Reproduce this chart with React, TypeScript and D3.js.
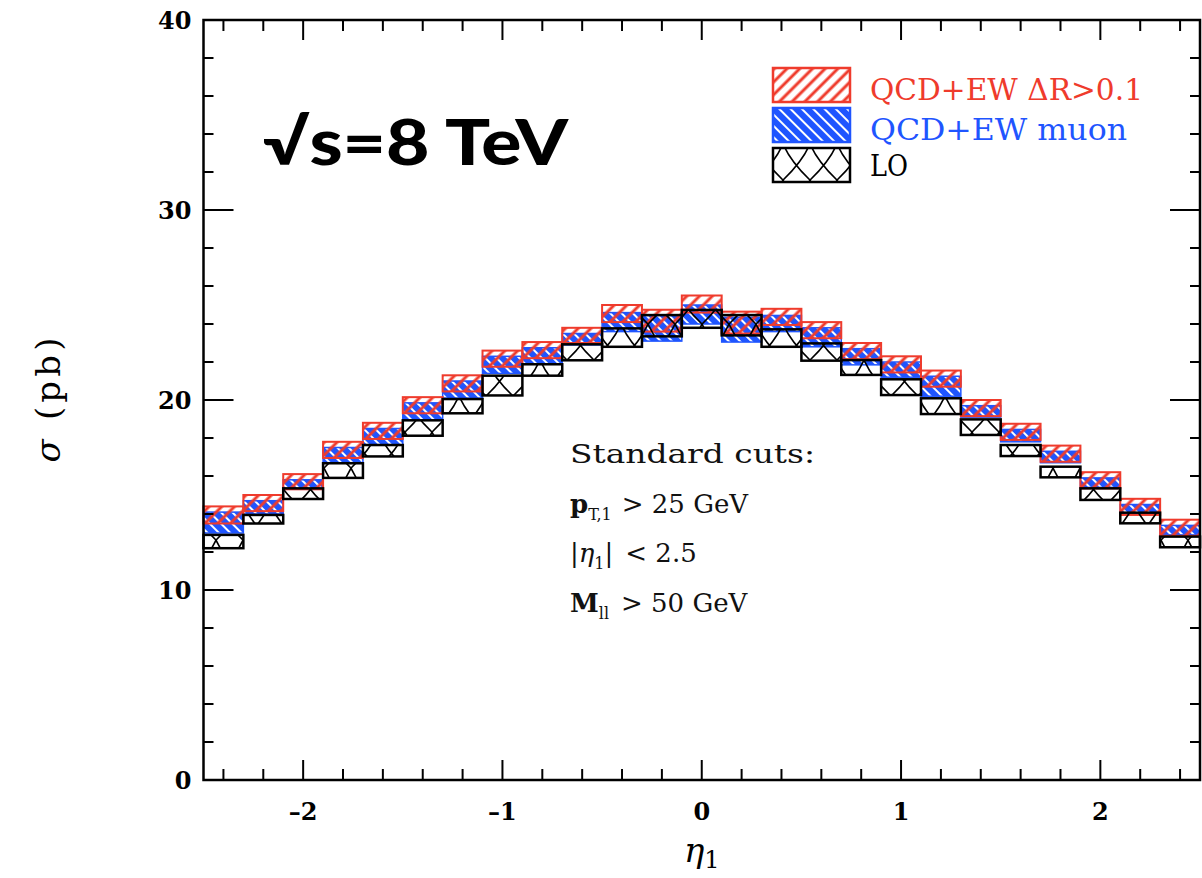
import React from 'react';
import * as d3 from 'd3';

// eta_1 bin edges (25 bins of 0.2)
const binEdges = [-2.5, -2.3, -2.1, -1.9, -1.7, -1.5, -1.3, -1.1, -0.9, -0.7, -0.5, -0.3, -0.1,
  0.1, 0.3, 0.5, 0.7, 0.9, 1.1, 1.3, 1.5, 1.7, 1.9, 2.1, 2.3, 2.5];

// QCD+EW dR>0.1 band (pb)
const ewHi = [14.4, 15.0, 16.1, 17.8, 18.8, 20.15, 21.3, 22.6, 23.05, 23.8, 25.0, 24.75, 25.5,
  24.65, 24.8, 24.1, 23.0, 22.3, 21.55, 20.0, 18.75, 17.6, 16.2, 14.8, 13.7];
const ewLo = [13.5, 14.15, 15.3, 16.95, 17.95, 19.3, 20.45, 21.75, 22.2, 23.0, 24.1, 23.6, 24.6,
  23.5, 23.95, 23.25, 22.15, 21.45, 20.7, 19.15, 17.9, 16.75, 15.35, 13.95, 12.85];
// QCD+EW muon band
const muHi = [14.1, 14.7, 15.8, 17.5, 18.5, 19.85, 21.0, 22.3, 22.75, 23.5, 24.6, 24.45, 25.0,
  24.35, 24.45, 23.8, 22.7, 22.0, 21.25, 19.7, 18.45, 17.3, 15.9, 14.5, 13.4];
const muLo = [13.0, 14.0, 15.3, 16.7, 17.65, 18.95, 20.1, 21.4, 21.9, 22.9, 23.6, 23.1, 24.0,
  23.05, 23.6, 22.8, 21.85, 21.2, 20.2, 19.1, 17.8, 16.7, 15.4, 14.0, 12.9];
// LO band
const loHi = [12.9, 13.95, 15.35, 16.67, 17.63, 18.93, 20.05, 21.28, 21.88, 22.93, 23.77, 24.47, 24.74,
  24.47, 23.72, 22.98, 22.1, 21.09, 20.09, 18.98, 17.63, 16.49, 15.35, 14.07, 12.81];
const loLo = [12.2, 13.5, 14.79, 15.9, 17.03, 18.12, 19.3, 20.24, 21.28, 22.09, 22.8, 23.35, 23.8,
  23.4, 22.8, 22.07, 21.32, 20.26, 19.26, 18.16, 17.05, 15.93, 14.74, 13.51, 12.25];

const xMajor = [-2, -1, 0, 1, 2];
const yMajor = [0, 10, 20, 30, 40];

const RED = '#ef3b2c';
const BLUE = '#1f55ff';
const W = 1202, H = 878;

export default function App() {
  const x = d3.scaleLinear().domain([-2.5, 2.5]).range([203.5, 1200]);
  const y = d3.scaleLinear().domain([0, 40]).range([780, 20]);
  const [x0, x1] = x.range();
  const [y0, y1] = y.range();
  const xMinor = x.ticks(25).filter(t => !xMajor.some(m => Math.abs(m - t) < 1e-6));
  const yMinor = y.ticks(20).filter(t => !yMajor.some(m => Math.abs(m - t) < 1e-6));
  const bins = binEdges.slice(0, -1).map((e, i) => ({ a: e, b: binEdges[i + 1], i }));
  const serif = '"DejaVu Serif", "Liberation Serif", serif';

  const band = (lo: number[], hi: number[], fill: string, stroke: string, sw: number) =>
    bins.map(({ a, b, i }) => (
      <rect key={i} x={x(a)} y={y(hi[i])} width={x(b) - x(a)} height={y(lo[i]) - y(hi[i])}
        fill={fill} stroke={stroke} strokeWidth={sw} />
    ));

  return (
    <div style={{ position: 'absolute', left: 0, top: 0 }}>
      <svg width={W} height={H} style={{ display: 'block', background: '#fff' }}>
        <defs>
          <pattern id="redHatch" width="9" height="9" patternUnits="userSpaceOnUse" patternTransform="rotate(45)">
            <line x1="2" y1="0" x2="2" y2="9" stroke={RED} strokeWidth="3" />
          </pattern>
          <pattern id="blueHatch" width="8" height="8" patternUnits="userSpaceOnUse" patternTransform="rotate(-45)">
            <rect width="8" height="8" fill={BLUE} />
            <line x1="2" y1="0" x2="2" y2="8" stroke="#fff" strokeWidth="2" />
          </pattern>
          <pattern id="loHatch" width="27" height="36" patternUnits="userSpaceOnUse">
            <path d="M0,0 Q8,18 27,36 M27,0 Q19,18 0,36" fill="none" stroke="#000" strokeWidth="1.6" />
          </pattern>
        </defs>

        {/* bands */}
        <g>{band(muLo, muHi, 'url(#blueHatch)', BLUE, 1.5)}</g>
        <g>{band(ewLo, ewHi, 'url(#redHatch)', RED, 2)}</g>
        <g>{band(loLo, loHi, 'url(#loHatch)', '#000', 2.5)}</g>

        {/* frame */}
        <rect x={x0} y={y1} width={x1 - x0} height={y0 - y1} fill="none" stroke="#000" strokeWidth="2.5" />

        {/* ticks on all four sides */}
        <g stroke="#000" strokeWidth="2">
          {xMajor.map(t => <line key={'xb' + t} x1={x(t)} x2={x(t)} y1={y0} y2={y0 - 20} />)}
          {xMinor.map(t => <line key={'xbm' + t} x1={x(t)} x2={x(t)} y1={y0} y2={y0 - 11} />)}
          {xMajor.map(t => <line key={'xt' + t} x1={x(t)} x2={x(t)} y1={y1} y2={y1 + 20} />)}
          {xMinor.map(t => <line key={'xtm' + t} x1={x(t)} x2={x(t)} y1={y1} y2={y1 + 11} />)}
          {yMajor.map(t => <line key={'yl' + t} x1={x0} x2={x0 + 30} y1={y(t)} y2={y(t)} />)}
          {yMinor.map(t => <line key={'ylm' + t} x1={x0} x2={x0 + 10} y1={y(t)} y2={y(t)} />)}
          {yMajor.map(t => <line key={'yr' + t} x1={x1} x2={x1 - 30} y1={y(t)} y2={y(t)} />)}
          {yMinor.map(t => <line key={'yrm' + t} x1={x1} x2={x1 - 10} y1={y(t)} y2={y(t)} />)}
        </g>

        {/* tick labels */}
        <g fontFamily={serif} fontWeight="bold" fontSize="24" fill="#000">
          {yMajor.map(t => (
            <text key={'yt' + t} x={x0 - 12} y={y(t)} dy="0.36em" textAnchor="end">{t}</text>
          ))}
          {xMajor.map(t => (
            <text key={'xl' + t} x={x(t)} y={y0 + 40} textAnchor="middle">{t < 0 ? '\u2013' + Math.abs(t) : t}</text>
          ))}
        </g>

        {/* axis titles */}
        <text x={x(0)} y={862} textAnchor="middle" fontFamily={serif} fontSize="34" fill="#000">
          <tspan fontStyle="italic">η</tspan><tspan fontSize="24" dy="6">1</tspan>
        </text>
        <text transform="translate(60,400) rotate(-90)" textAnchor="middle" fontFamily={serif} fontSize="34"
          fill="#000" textLength="125" lengthAdjust="spacing">
          <tspan fontStyle="italic">σ</tspan> (pb)
        </text>

        {/* energy label */}
        <text x={263} y={165} fontFamily='Lato, "Open Sans", sans-serif' fontWeight="900" fontSize="62"
          fill="#000" textLength="305" lengthAdjust="spacingAndGlyphs">√s=8 TeV</text>

        {/* legend */}
        <g>
          <rect x={773} y={68} width={77} height={34} fill="url(#redHatch)" stroke={RED} strokeWidth="2.5" />
          <rect x={773} y={108} width={77} height={34} fill="url(#blueHatch)" stroke={BLUE} strokeWidth="2.5" />
          <rect x={773} y={148} width={77} height={34} fill="url(#loHatch)" stroke="#000" strokeWidth="2.5" />
          <text x={870} y={100} fontFamily={serif} fontSize="30" fill={RED} textLength="273" lengthAdjust="spacingAndGlyphs">QCD+EW ΔR&gt;0.1</text>
          <text x={870} y={140} fontFamily={serif} fontSize="30" fill={BLUE} textLength="257" lengthAdjust="spacingAndGlyphs">QCD+EW muon</text>
          <text x={870} y={176} fontFamily={serif} fontSize="30" fill="#000" textLength="38" lengthAdjust="spacingAndGlyphs">LO</text>
        </g>

        {/* cuts */}
        <g fontFamily={serif} fontSize="26" fill="#111">
          <text x={570} y={463} textLength="245" lengthAdjust="spacingAndGlyphs">Standard cuts:</text>
          <text x={570} y={513}>
            <tspan fontWeight="bold">p</tspan><tspan fontSize="16" dy="7">T,1</tspan><tspan dy="-7" dx="10">&gt; 25 GeV</tspan>
          </text>
          <text x={570} y={562}>
            |<tspan fontStyle="italic">η</tspan><tspan fontSize="16" dy="7">1</tspan><tspan dy="-7">|</tspan><tspan dx="12">&lt; 2.5</tspan>
          </text>
          <text x={570} y={612}>
            <tspan fontWeight="bold">M</tspan><tspan fontSize="16" dy="7">ll</tspan><tspan dy="-7" dx="12">&gt; 50 GeV</tspan>
          </text>
        </g>
      </svg>
    </div>
  );
}
